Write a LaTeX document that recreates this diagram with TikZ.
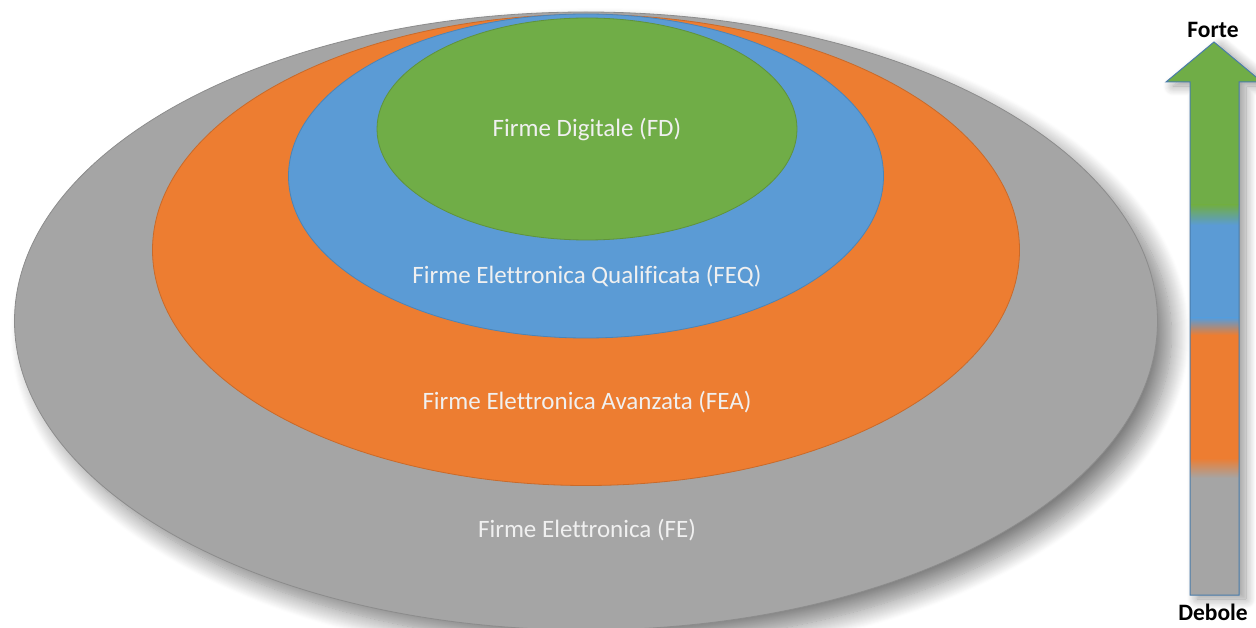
\documentclass[tikz,border=0pt]{standalone}
\usepackage{fontspec}
\setmainfont{Carlito}[Ligatures=NoCommon]
\usetikzlibrary{shapes.geometric,shadows.blur}
\definecolor{fegray}{HTML}{A5A5A5}
\definecolor{feaorange}{HTML}{ED7D31}
\definecolor{feqblue}{HTML}{5B9BD5}
\definecolor{fdgreen}{HTML}{70AD47}

\begin{document}
\begin{tikzpicture}[x=1pt, y=-1pt, ring/.style = {draw, ellipse, inner sep=0pt, line width=0.8pt}, tag/.style = {text=white!94!black, font=\fontsize{25}{30}\selectfont}, ends/.style = {font=\bfseries\fontsize{23.5}{26}\selectfont}]
\useasboundingbox (0,0) rectangle (1256,628);
\node[ring, fill=fegray, draw=fegray!85!black, minimum width=1143pt, minimum height=618pt, blur shadow={shadow xshift=14pt, shadow yshift=-14pt, shadow blur radius=18pt, shadow blur steps=18, shadow opacity=50}] (fe) at (586,321) {};
\node[ring, fill=feaorange, draw=feaorange!85!black, minimum width=867pt, minimum height=471pt] (fea) at (586,250) {};
\node[ring, fill=feqblue, draw=feqblue!85!black, minimum width=595pt, minimum height=324pt] (feq) at (586,176) {};
\node[ring, fill=fdgreen, draw=fdgreen!85!black, minimum width=420pt, minimum height=222pt] (fd) at (587,129) {};
\node[tag] (fdtag) at (587,130) {Firme Digitale (FD)};
\node[tag] (feqtag) at (587,276) {Firme Elettronica Qualificata (FEQ)};
\node[tag] (featag) at (587,402) {Firme Elettronica Avanzata (FEA)};
\node[tag] (fetag) at (587,530) {Firme Elettronica (FE)};
% arrow Debole -> Forte
\def\strengtharrow{(1190,595) -- (1190,82) -- (1166,82) -- (1214,42) -- (1262,82) -- (1239,82) -- (1239,595) -- cycle}
\fill[fegray, blur shadow={shadow xshift=7pt, shadow yshift=-4pt, shadow blur radius=10pt, shadow blur steps=12, shadow opacity=40}] \strengtharrow;
\begin{scope}
\clip \strengtharrow;
\fill[fdgreen] (1150,30) rectangle (1270,205);
\shade[top color=fdgreen, bottom color=feqblue] (1150,205) rectangle (1270,225);
\fill[feqblue] (1150,225) rectangle (1270,318);
\shade[top color=feqblue, bottom color=feaorange] (1150,318) rectangle (1270,335);
\fill[feaorange] (1150,335) rectangle (1270,458);
\shade[top color=feaorange, bottom color=fegray] (1150,458) rectangle (1270,478);
\fill[fegray] (1150,478) rectangle (1270,600);
\end{scope}
\draw[feqblue!80!black, line width=1pt] \strengtharrow;
\node[ends] (forte) at (1213,30) {Forte};
\node[ends] (debole) at (1213,612) {Debole};
\end{tikzpicture}
\end{document}
